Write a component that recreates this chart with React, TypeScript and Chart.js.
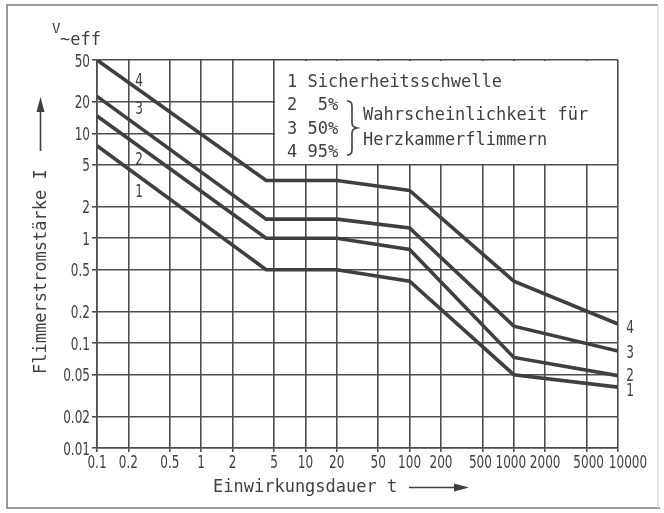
import React, { useEffect, useRef } from 'react';
import { Chart, registerables } from 'chart.js';

Chart.register(...registerables);

// ---- data ----
const durations = [0.1, 4.2, 20, 100, 1000, 10000];
const curve1 = [7.6, 0.5, 0.5, 0.39, 0.05, 0.038];
const curve2 = [14.6, 1.0, 1.0, 0.78, 0.073, 0.049];
const curve3 = [22.5, 1.52, 1.52, 1.25, 0.145, 0.084];
const curve4 = [50, 3.55, 3.55, 2.85, 0.39, 0.152];
const curveNames = ['1', '2', '3', '4'];

const xTicks = [0.1, 0.2, 0.5, 1, 2, 5, 10, 20, 50, 100, 200, 500, 1000, 2000, 5000, 10000];
const xTickLabels = ['0.1', '0.2', '0.5', '1', '2', '5', '10', '20', '50', '100', '200', '500', '1000', '2000', '5000', '10000'];
const yTicks = [0.01, 0.02, 0.05, 0.1, 0.2, 0.5, 1, 2, 5, 10, 20, 50];
const yTickLabels = ['0.01', '0.02', '0.05', '0.1', '0.2', '0.5', '1', '2', '5', '10', '20', '50'];

const legendLines = ['1 Sicherheitsschwelle', '2  5%', '3 50%', '4 95%'];
const legendNote = ['Wahrscheinlichkeit für', 'Herzkammerflimmern'];
const xTitle = 'Einwirkungsdauer t';
const yTitle = 'Flimmerstromstärke I';
const unitMain = 'V';
const unitSub = '~eff';

const INK = '#3f3f3f';
const GRID = '#4d4d4d';
const MONO = "'DejaVu Sans Mono', monospace";
const SANS = "'DejaVu Sans', sans-serif";
const SQUEEZE = 0.67;

function narrowText(ctx: any, s: string, x: number, y: number, align: string) {
  ctx.save();
  ctx.translate(x, y);
  ctx.scale(SQUEEZE, 1);
  ctx.textAlign = align;
  ctx.fillText(s, 0, 0);
  ctx.restore();
}

const decorPlugin = {
  id: 'decor',
  beforeDraw(chart: any) {
    const ctx = chart.ctx;
    ctx.save();
    ctx.fillStyle = '#ffffff';
    ctx.fillRect(0, 0, chart.width, chart.height);
    ctx.strokeStyle = '#777';
    ctx.lineWidth = 1.5;
    ctx.beginPath();
    ctx.moveTo(658, 5);
    ctx.lineTo(7, 5);
    ctx.lineTo(7, 508);
    ctx.lineTo(660, 508);
    ctx.stroke();
    ctx.strokeStyle = '#dcdcdc';
    ctx.beginPath();
    ctx.moveTo(658, 5);
    ctx.lineTo(658, 508);
    ctx.stroke();
    ctx.restore();
  },
  beforeDatasetsDraw(chart: any) {
    const ctx = chart.ctx;
    const xs = chart.scales.x;
    const ys = chart.scales.y;
    const l = xs.getPixelForValue(5);
    const r = xs.getPixelForValue(10000);
    const t = ys.getPixelForValue(50);
    const b = ys.getPixelForValue(5);
    ctx.save();
    ctx.fillStyle = '#ffffff';
    ctx.fillRect(l + 1, t + 1, r - l - 2, b - t - 2);
    ctx.restore();
  },
  afterDraw(chart: any) {
    const ctx = chart.ctx;
    const xs = chart.scales.x;
    const ys = chart.scales.y;
    ctx.save();
    ctx.fillStyle = INK;
    ctx.strokeStyle = INK;
    ctx.textBaseline = 'alphabetic';

    // tick labels (positions from the axes)
    ctx.font = `18px ${SANS}`;
    const xShift: Record<number, number> = { 11: -2, 12: -3, 14: 2, 15: 10 };
    xs.ticks.forEach((_t: any, i: number) => {
      const px = xs.getPixelForTick(i);
      narrowText(ctx, xTickLabels[i], px + (xShift[i] || 0), xs.bottom - xs.height + 20, 'center');
    });
    ys.ticks.forEach((_t: any, i: number) => {
      const py = ys.getPixelForTick(i);
      narrowText(ctx, yTickLabels[i], ys.right - 7, py + 6.5, 'right');
    });

    // unit label
    ctx.textAlign = 'left';
    ctx.font = `14px ${MONO}`;
    ctx.fillText(unitMain, 52, 33);
    ctx.font = `17px ${MONO}`;
    ctx.fillText(unitSub, 60, 45);

    // legend box text
    const lx = xs.getPixelForValue(5) + 13;
    const legendBase = [87, 110, 134, 157];
    ctx.font = `17px ${MONO}`;
    legendLines.forEach((s, i) => ctx.fillText(s, lx, legendBase[i]));
    ctx.fillText(legendNote[0], 363, 120);
    ctx.fillText(legendNote[1], 363, 145);

    // brace
    ctx.lineWidth = 1.6;
    ctx.beginPath();
    ctx.moveTo(347, 101);
    ctx.quadraticCurveTo(352, 101, 352, 106);
    ctx.lineTo(352, 123);
    ctx.quadraticCurveTo(352, 127, 357, 128);
    ctx.quadraticCurveTo(352, 129, 352, 133);
    ctx.lineTo(352, 150);
    ctx.quadraticCurveTo(352, 155, 347, 155);
    ctx.stroke();

    // curve numbers
    ctx.font = `18px ${SANS}`;
    const leftY = [197, 165, 114, 86];
    curveNames.forEach((n, i) => narrowText(ctx, n, 139, leftY[i], 'center'));
    const rightY = [396, 381, 358, 333];
    const rx = xs.getPixelForValue(10000) + 12;
    curveNames.forEach((n, i) => narrowText(ctx, n, rx, rightY[i], 'center'));

    // x title + arrow
    ctx.font = `17px ${MONO}`;
    ctx.textAlign = 'left';
    ctx.fillText(xTitle, 213, 492);
    ctx.lineWidth = 1.6;
    ctx.beginPath();
    ctx.moveTo(409, 487.5);
    ctx.lineTo(456, 487.5);
    ctx.stroke();
    ctx.beginPath();
    ctx.moveTo(469, 487.5);
    ctx.lineTo(454, 483.5);
    ctx.lineTo(454, 491.5);
    ctx.closePath();
    ctx.fill();

    // y title + arrow
    ctx.save();
    ctx.translate(46, 374);
    ctx.rotate(-Math.PI / 2);
    ctx.fillText(yTitle, 0, 0);
    ctx.restore();
    ctx.beginPath();
    ctx.moveTo(40.5, 151);
    ctx.lineTo(40.5, 108);
    ctx.stroke();
    ctx.beginPath();
    ctx.moveTo(40.5, 97);
    ctx.lineTo(36.5, 112);
    ctx.lineTo(44.5, 112);
    ctx.closePath();
    ctx.fill();

    ctx.restore();
  },
};

export default function App() {
  const ref = useRef<HTMLCanvasElement | null>(null);
  useEffect(() => {
    if (!ref.current) return;
    const series = [curve1, curve2, curve3, curve4];
    const chart = new Chart(ref.current, {
      type: 'line',
      data: {
        datasets: series.map((vals, i) => ({
          label: curveNames[i],
          data: durations.map((t, j) => ({ x: t, y: vals[j] })),
          borderColor: INK,
          borderWidth: 3.6,
          pointRadius: 0,
          tension: 0,
          fill: false,
        })),
      },
      options: {
        responsive: false,
        animation: false,
        layout: { padding: { left: 0, top: 60, right: 46, bottom: 0 } },
        plugins: { legend: { display: false }, tooltip: { enabled: false } },
        scales: {
          x: {
            type: 'logarithmic',
            min: 0.1,
            max: 10000,
            afterBuildTicks: (ax: any) => {
              ax.ticks = xTicks.map((v) => ({ value: v }));
            },
            afterFit: (ax: any) => {
              ax.height = 65;
            },
            grid: { color: GRID, lineWidth: 1.6, tickLength: 4, drawTicks: true },
            border: { color: GRID, width: 1.6 },
            ticks: {
              display: false,
              autoSkip: false,
              maxRotation: 0,
              minRotation: 0,
              callback: (_v: any, i: number) => xTickLabels[i],
            },
          },
          y: {
            type: 'logarithmic',
            min: 0.01,
            max: 50,
            afterBuildTicks: (ax: any) => {
              ax.ticks = yTicks.map((v) => ({ value: v }));
            },
            afterFit: (ax: any) => {
              ax.width = 97;
            },
            grid: { color: GRID, lineWidth: 1.6, tickLength: 5, drawTicks: true },
            border: { color: GRID, width: 1.6 },
            ticks: {
              display: false,
              autoSkip: false,
              callback: (_v: any, i: number) => yTickLabels[i],
            },
          },
        },
      } as any,
      plugins: [decorPlugin],
    });
    return () => chart.destroy();
  }, []);
  return (
    <div style={{ position: 'absolute', left: 0, top: 0, width: 664, height: 513, background: '#fff' }}>
      <canvas ref={ref} width={664} height={513} />
    </div>
  );
}
